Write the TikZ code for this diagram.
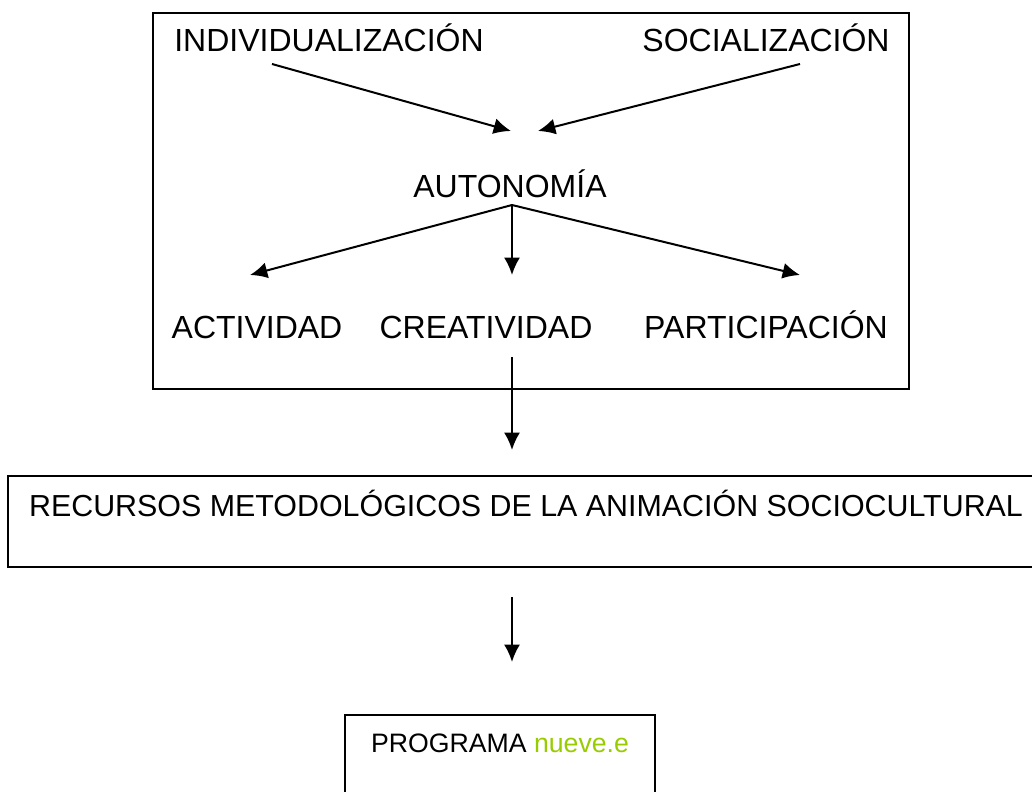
\documentclass[tikz,border=0pt]{standalone}
\usepackage{fontspec}
\setmainfont{Liberation Sans}
\usetikzlibrary{arrows.meta,positioning}
\definecolor{NueveGreen}{RGB}{153,204,0}
\tikzset{
  asc/label/.style={anchor=base, inner sep=0pt, text=black, font=\fontsize{24}{28}\selectfont},
  asc/wide/.style={asc/label, font=\fontsize{22.8}{28}\selectfont},
  asc/small/.style={anchor=base, inner sep=0pt, text=black, font=\fontsize{20}{24}\selectfont},
  asc/frame/.style={draw=black, line width=1.5pt},
  asc/arrow/.style={-{Latex[length=13pt,width=12pt]}, line width=1.5pt, draw=black}
}

\begin{document}
\begin{tikzpicture}[x=0.75pt,y=-0.75pt]
  \useasboundingbox (0,0) rectangle (1032,792);
  \clip (0,0) rectangle (1032,792);
  % frames
  \draw[asc/frame] (153,13) rectangle (909,389);
  \draw[asc/frame] (8,476) rectangle (1045,567);
  \draw[asc/frame] (345,715) rectangle (655,800);
  % texts
  \node[asc/label] (indiv) at (329,52) {INDIVIDUALIZACIÓN};
  \node[asc/label] (social) at (766,52) {SOCIALIZACIÓN};
  \node[asc/label] (auton) at (510,197) {AUTONOMÍA};
  \node[asc/label] (activ) at (257,338) {ACTIVIDAD};
  \node[asc/label] (creat) at (486,338) {CREATIVIDAD};
  \node[asc/label] (partic) at (766,338) {PARTICIPACIÓN};
  \node[asc/wide] (recursos) at (526,516) {RECURSOS METODOLÓGICOS DE LA ANIMACIÓN SOCIOCULTURAL};
  \node[asc/small] (programa) at (500,752) {PROGRAMA \textcolor{NueveGreen}{nueve.e}};
  % arrow ends
  \coordinate (fromIndiv) at (272,64);
  \coordinate (fromSocial) at (800,64);
  \coordinate (hubL) at (511,131);
  \coordinate (hubR) at (538,131);
  \coordinate (hub) at (512,205);
  \coordinate (toActiv) at (250,275);
  \coordinate (toCreat) at (512,275);
  \coordinate (toPartic) at (800,275);
  \coordinate (fromCreat) at (512,357);
  \coordinate (toRecursos) at (512,450);
  \coordinate (fromRecursos) at (512,597);
  \coordinate (toPrograma) at (512,662);
  % arrows
  \draw[asc/arrow] (fromIndiv) -- (hubL);
  \draw[asc/arrow] (fromSocial) -- (hubR);
  \draw[asc/arrow] (hub) -- (toActiv);
  \draw[asc/arrow] (hub) -- (toCreat);
  \draw[asc/arrow] (hub) -- (toPartic);
  \draw[asc/arrow] (fromCreat) -- (toRecursos);
  \draw[asc/arrow] (fromRecursos) -- (toPrograma);
\end{tikzpicture}
\end{document}
